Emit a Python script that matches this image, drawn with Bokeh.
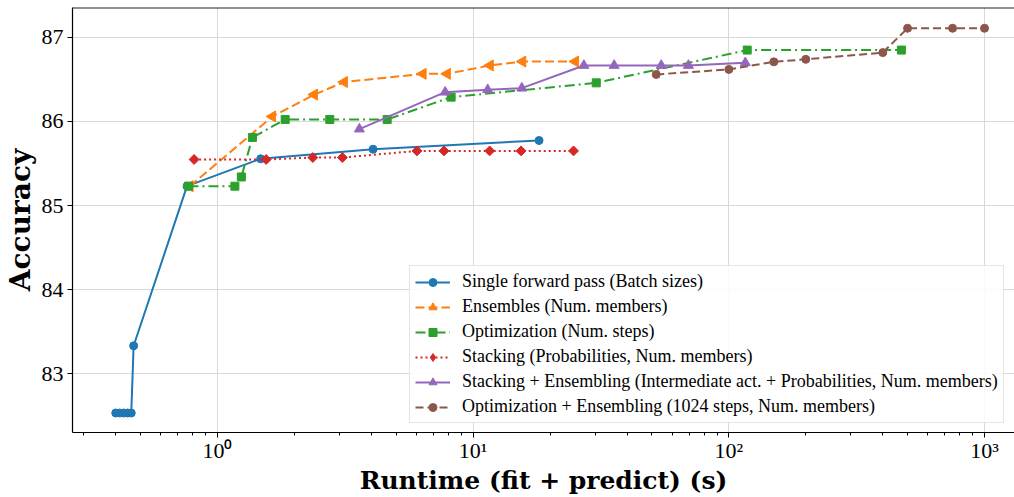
import math
from bokeh.plotting import figure
from bokeh.models import Range1d, FixedTicker, Legend, LegendItem, Span
from bokeh.embed import file_html
from bokeh.resources import INLINE

# ---------------- data ----------------
single_x = [0.40, 0.415, 0.43, 0.445, 0.46, 0.47, 0.76, 1.476, 4.06, 18.1]
single_y = [82.53, 82.53, 82.53, 82.53, 82.53, 83.33, 85.23, 85.556, 85.67, 85.774]

ens_x = [0.78, 1.64, 2.39, 3.13, 6.36, 7.91, 11.65, 15.6, 25.1]
ens_y = [85.23, 86.06, 86.32, 86.47, 86.567, 86.567, 86.667, 86.714, 86.714]

opt_x = [0.77, 1.17, 1.24, 1.37, 1.84, 2.75, 4.61, 8.2, 30.3, 118, 473]
opt_y = [85.23, 85.23, 85.34, 85.81, 86.024, 86.024, 86.024, 86.29, 86.46, 86.85, 86.85]

stack_x = [0.81, 1.55, 2.36, 3.08, 6.03, 7.69, 11.6, 15.4, 24.7]
stack_y = [85.548, 85.548, 85.571, 85.571, 85.65, 85.65, 85.65, 85.65, 85.65]

stens_x = [3.59, 7.77, 11.4, 15.5, 27.1, 35.6, 54.4, 69.5, 116]
stens_y = [85.91, 86.349, 86.378, 86.397, 86.667, 86.667, 86.667, 86.667, 86.699]

optens_x = [52, 100, 150, 200, 400, 500, 750, 1000]
optens_y = [86.56, 86.62, 86.71, 86.74, 86.82, 87.11, 87.11, 87.11]

labels = [
    "Single forward pass (Batch sizes)",
    "Ensembles (Num. members)",
    "Optimization (Num. steps)",
    "Stacking (Probabilities, Num. members)",
    "Stacking + Ensembling (Intermediate act. + Probabilities, Num. members)",
    "Optimization + Ensembling (1024 steps, Num. members)",
]

x_label = "Runtime (fit + predict) (s)"
y_label = "Accuracy"

x_ticks = [1, 10, 100, 1000]
x_tick_labels = ["10\u2070", "10\u00b9", "10\u00b2", "10\u00b3"]
x_minor = [m * d for d in [0.1, 1, 10, 100] for m in range(2, 10)]
y_ticks = [83, 84, 85, 86, 87]
y_tick_labels = ["83", "84", "85", "86", "87"]

X_RANGE = (0.271, 1310)
Y_RANGE = (82.298, 87.357)

FONT = "Liberation Serif"
LABEL_FONT = "DejaVu Serif"

p = figure(width=1014, height=497, x_axis_type="log",
           x_range=Range1d(*X_RANGE), y_range=Range1d(*Y_RANGE),
           output_backend="svg", toolbar_location=None,
           min_border_left=71, min_border_right=0, min_border_top=7,
           min_border_bottom=65)
p.outline_line_color = None
p.background_fill_color = "white"

p.xaxis.ticker = FixedTicker(ticks=x_ticks, minor_ticks=x_minor)
p.xaxis.major_label_overrides = dict(zip(x_ticks, x_tick_labels))
p.yaxis.ticker = FixedTicker(ticks=y_ticks)
p.yaxis.major_label_overrides = dict(zip(y_ticks, y_tick_labels))

for ax in (p.xaxis, p.yaxis):
    ax.axis_line_color = "black"
    ax.axis_line_width = 1.2
    ax.major_tick_line_color = "black"
    ax.minor_tick_line_color = "black"
    ax.major_tick_out = 5
    ax.major_tick_in = 0
    ax.minor_tick_out = 3
    ax.minor_tick_in = 0
    ax.major_label_text_font = FONT
    ax.major_label_text_font_size = "22px"
    ax.major_label_text_color = "black"
    ax.axis_label_text_font = LABEL_FONT
    ax.axis_label_text_font_style = "bold"
    ax.axis_label_text_color = "black"
p.yaxis.minor_tick_line_color = None
p.xaxis.axis_label = x_label
p.yaxis.axis_label = y_label
p.xaxis.axis_label_text_font_size = "25px"
p.yaxis.axis_label_text_font_size = "28px"
p.xaxis.major_label_standoff = 0
p.yaxis.major_label_standoff = 4
p.xaxis.axis_label_standoff = 0
p.yaxis.axis_label_standoff = 2

p.xgrid.ticker = FixedTicker(ticks=x_ticks)
p.ygrid.ticker = FixedTicker(ticks=y_ticks)
p.grid.grid_line_color = "#d9d9d9"
p.grid.grid_line_width = 1

p.add_layout(Span(location=Y_RANGE[1], dimension="width",
                  line_color="#222222", line_width=2))

colors = ["#1f77b4", "#ff7f0e", "#2ca02c", "#d62728", "#9467bd", "#8c564b"]
series = [
    (single_x, single_y, "solid", dict(marker="circle", size=8), None),
    (ens_x, ens_y, "9 4", dict(marker="triangle", size=11, angle=math.pi / 2), None),
    (opt_x, opt_y, "10 4 2 4", dict(marker="square", size=8), None),
    (stack_x, stack_y, "2 3", dict(marker="square", size=7, angle=math.pi / 4), "diamond"),
    (stens_x, stens_y, "solid", dict(marker="triangle", size=10), None),
    (optens_x, optens_y, "8 4", dict(marker="circle", size=8), None),
]

items = []
for (xs, ys, dash, mk, leg_marker), col, lab in zip(series, colors, labels):
    ln = p.line(xs, ys, line_color=col, line_width=2, line_dash=dash)
    sc = p.scatter(xs, ys, fill_color=col, line_color=col, **mk)
    if leg_marker is not None:
        # zero-size copy used only for the legend swatch (legend ignores angle)
        sc = p.scatter(xs[:1], ys[:1], marker=leg_marker, size=0,
                       fill_color=col, line_color=col)
    items.append(LegendItem(label=lab, renderers=[ln, sc]))

legend = Legend(items=items, location=(337, 9))
legend.label_text_font = FONT
legend.label_text_font_size = "18px"
legend.label_text_color = "black"
legend.glyph_width = 35
legend.glyph_height = 20
legend.label_height = 20
legend.label_standoff = 12
legend.spacing = 4
legend.padding = 5
legend.margin = 0
legend.border_line_color = "#cccccc"
legend.border_line_width = 1
legend.background_fill_color = "white"
legend.background_fill_alpha = 0.85
p.add_layout(legend, "center")

open("out.html", "w").write(file_html(p, INLINE))
